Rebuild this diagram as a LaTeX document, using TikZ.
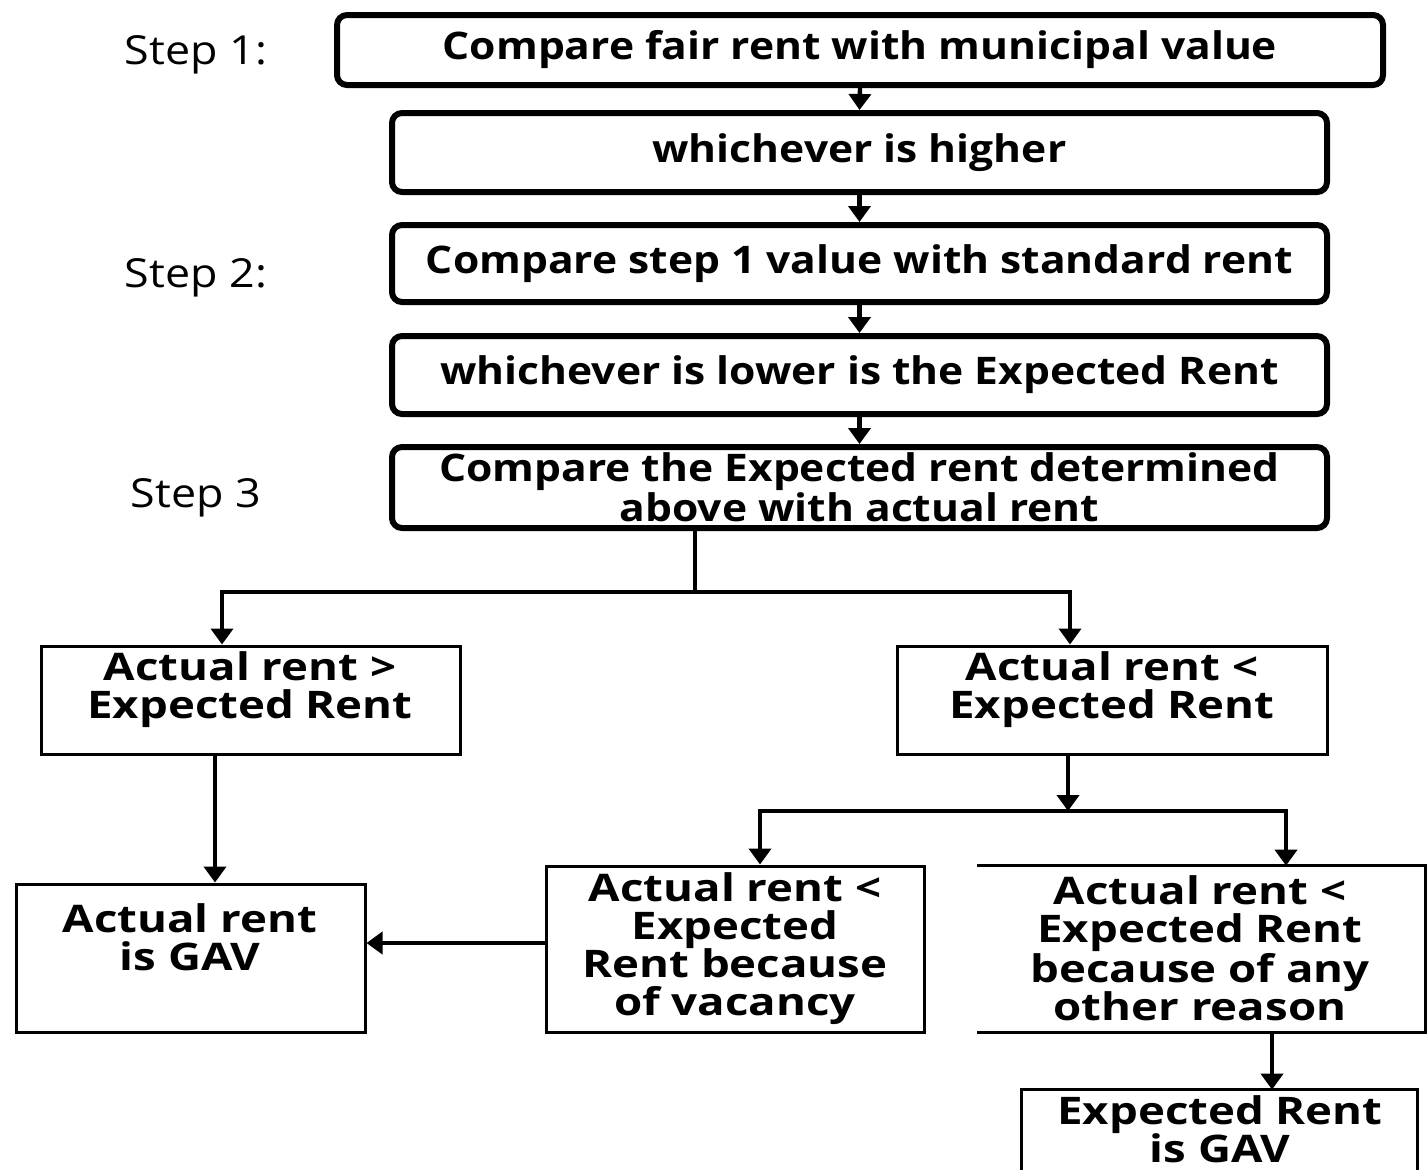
\documentclass[tikz,border=0pt]{standalone}
\usepackage{fontspec}
\setmainfont{Open Sans}
\newfontfamily\upfont{Open Sans}[FakeStretch=1.12]
\newfontfamily\lowfont{Open Sans}[FakeStretch=1.2]
\usetikzlibrary{arrows.meta,calc}
\begin{document}
\begin{tikzpicture}[x=0.5pt,y=-0.5pt,
  rbox/.style={draw,line width=3pt,rounded corners=5pt,inner sep=0pt,align=center,font=\upfont\bfseries\fontsize{19}{17}\selectfont},
  tbox/.style={draw,line width=1.5pt,inner sep=0pt},
  hbox/.style={inner sep=0pt},
  txt/.style={align=center,inner sep=0pt,font=\lowfont\bfseries\fontsize{19}{19}\selectfont},
  steplbl/.style={inner sep=0pt,font=\upfont\fontsize{20}{20}\selectfont},
  ln/.style={line width=2.2pt},
  arr/.style={line width=2.2pt,-{Triangle[length=8pt,width=11pt]}}]
\useasboundingbox (0,0) rectangle (1427,1169);
\fill[white] (0,0) rectangle (1427,1169);

% step labels
\node[steplbl] (s1) at (196,55) {Step 1:};
\node[steplbl] (s2) at (196,278) {Step 2:};
\node[steplbl] (s3) at (196,498) {Step 3};

% main column
\node[rbox,minimum width=523pt,minimum height=35pt] (b1) at (860,50) {Compare fair rent with municipal value};
\node[rbox,minimum width=467.5pt,minimum height=39.5pt] (b2) at (859.5,152.5) {whichever is higher};
\node[rbox,minimum width=467.5pt,minimum height=38.5pt] (b3) at (859.5,263.5) {Compare step 1 value with standard rent};
\node[rbox,minimum width=467.5pt,minimum height=39pt] (b4) at (859.5,375) {whichever is lower is the Expected Rent};
\node[rbox,minimum width=467.5pt,minimum height=40.5pt] (b5) at (859.5,487.5) {Compare the Expected rent determined\\above with actual rent};

% second level
\node[tbox,minimum width=209.5pt,minimum height=54pt] (l1) at (250.5,700) {};
\node[txt] (l1t) at (250,690) {Actual rent >\\Expected Rent};
\node[tbox,minimum width=215pt,minimum height=54pt] (r1) at (1112,700) {};
\node[txt] (r1t) at (1112,690) {Actual rent <\\Expected Rent};

% third level
\node[tbox,minimum width=174.5pt,minimum height=74pt] (l2) at (190.5,958) {};
\node[txt] (l2t) at (190,937) {Actual rent\\is GAV};
\node[tbox,minimum width=189pt,minimum height=83pt] (m) at (735,949) {};
\node[txt] (mt) at (735,948.5) {Actual rent <\\Expected\\Rent because\\of vacancy};
\node[hbox,minimum width=224pt,minimum height=83pt] (r2) at (1201,949) {};
\draw[line width=1.5pt] (r2.north west) -- (r2.north east) -- (r2.south east) -- (r2.south west);
\node[txt] (r2t) at (1200,948.5) {Actual rent <\\Expected Rent\\because of any\\other reason};

% fourth level
\node[hbox,minimum width=197.5pt,minimum height=41pt] (g2) at (1219.5,1131) {};
\draw[line width=1.5pt] (g2.south west) -- (g2.north west) -- (g2.north east) -- (g2.south east);
\node[txt] (g2t) at (1220,1129) {Expected Rent\\is GAV};

% connectors main column
\draw[arr] (b1.south) -- (b2.north);
\draw[arr] (b2.south) -- (b3.north);
\draw[arr] (b3.south) -- (b4.north);
\draw[arr] (b4.south) -- (b5.north);

% split 1
\coordinate (j1) at (695,592);
\coordinate (j1l) at (222,592);
\coordinate (j1r) at (1070,592);
\draw[ln] (b5.south -| j1) -- (j1);
\draw[arr] (j1) -| (l1.north -| j1l);
\draw[arr] (j1) -| (r1.north -| j1r);

% left branch
\coordinate (c215) at (215,0);
\draw[arr] (l1.south -| c215) -- (l2.north -| c215);

% split 2
\coordinate (j2) at (1068,811);
\coordinate (j2l) at (760,811);
\coordinate (j2r) at (1286,811);
\draw[arr] (r1.south -| j2) -- (j2);
\draw[arr] (j2) -| (m.north -| j2l);
\draw[arr] (j2) -| (r2.north -| j2r);

% vacancy -> actual rent GAV
\coordinate (c943) at (0,943);
\draw[arr] (m.west |- c943) -- (l2.east |- c943);

% other reason -> expected rent GAV
\coordinate (c1272) at (1272,0);
\draw[arr] (r2.south -| c1272) -- (g2.north -| c1272);
\end{tikzpicture}
\end{document}
